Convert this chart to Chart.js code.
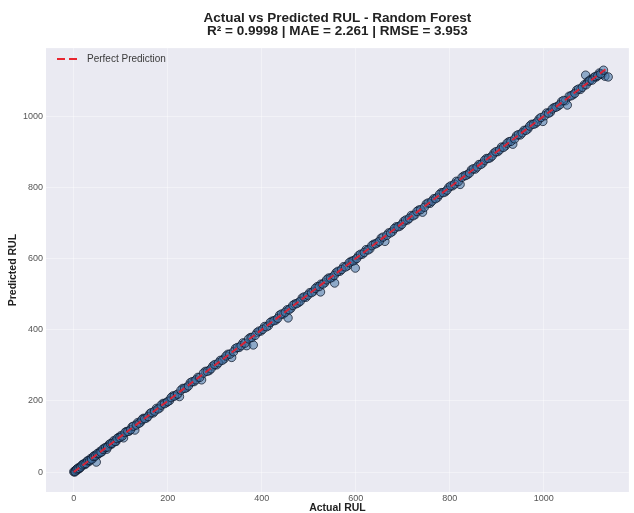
<!DOCTYPE html>
<html>
<head>
<meta charset="utf-8">
<title>Actual vs Predicted RUL</title>
<script src="https://cdn.jsdelivr.net/npm/chart.js@4.4.0/dist/chart.umd.min.js"></script>
<style>
  html, body { margin: 0; padding: 0; background: #fff; }
  #wrap { width: 634px; height: 513px; }
</style>
</head>
<body>
<div id="wrap"><canvas id="rulChart" width="634" height="513"></canvas></div>
<script>
// --- chart data ---
const titleLines = ['Actual vs Predicted RUL - Random Forest', 'R\u00b2 = 0.9998 | MAE = 2.261 | RMSE = 3.953'];
const xAxisTitle = 'Actual RUL';
const yAxisTitle = 'Predicted RUL';
const legendLabel = 'Perfect Prediction';

const xTicks = [0, 200, 400, 600, 800, 1000];
const yTicks = [0, 200, 400, 600, 800, 1000];

// test samples, first batch
const actualRul = [
  0, 2, 4, 6, 8, 10, 13, 16, 20, 24, 28, 32, 36, 40, 44, 48, 52, 56, 60, 65,
  70, 75, 80, 85, 90, 95, 100, 106, 112, 118, 124, 130, 136, 142, 148, 155, 162, 169, 176, 183,
  190, 197, 204, 211, 218, 225, 232, 240, 248, 256, 264, 272, 280, 288, 296, 304, 312, 320, 328, 336,
  344, 352, 360, 368, 376, 382, 390, 398, 406, 414, 422, 430, 438, 446, 454, 456, 462, 470, 478, 486,
  494, 502, 510, 518, 525, 526, 534, 542, 550, 555, 558, 566, 574, 582, 590, 598, 599, 606, 614, 622,
  630, 638, 646, 654, 662, 670, 678, 686, 694, 702, 710, 718, 726, 734, 742, 750, 758, 766, 774, 782,
  790, 798, 806, 814, 822, 830, 838, 846, 854, 862, 870, 878, 886, 894, 902, 910, 918, 926, 934, 942,
  950, 958, 966, 974, 982, 990, 998, 1006, 1014, 1022, 1030, 1038, 1046, 1050, 1054, 1062, 1070, 1078, 1086, 1089,
  1094, 1100, 1106, 1112, 1118, 1124, 1130, 1137
];
const predictedRul = [
  1, 0, 5, 7, 6, 12, 11, 17, 22, 21, 30, 29, 38, 37, 46, 28, 50, 58, 57, 67,
  64, 77, 78, 88, 86, 97, 102, 96, 114, 115, 127, 118, 139, 140, 151, 152, 164, 166, 179, 180,
  193, 195, 201, 214, 216, 212, 235, 237, 251, 254, 266, 259, 283, 285, 298, 301, 314, 318, 331, 322,
  347, 350, 363, 355, 378, 357, 392, 396, 409, 411, 424, 427, 441, 444, 456, 433, 460, 472, 476, 489,
  491, 504, 508, 521, 506, 528, 532, 545, 547, 531, 560, 564, 577, 579, 592, 596, 573, 608, 612, 625,
  627, 640, 644, 657, 648, 672, 676, 689, 691, 704, 708, 721, 723, 736, 730, 753, 755, 768, 772, 785,
  787, 800, 804, 817, 808, 832, 836, 849, 851, 864, 868, 881, 883, 896, 900, 913, 916, 928, 921, 945,
  947, 960, 964, 977, 979, 992, 985, 1009, 1011, 1024, 1028, 1041, 1043, 1031, 1056, 1060, 1073, 1075, 1088, 1115,
  1097, 1103, 1108, 1110, 1121, 1117, 1112, 1110
];

// test samples, second batch
const actualRul2 = [
  3, 7, 11, 15, 18, 22, 26, 30, 34, 38, 42, 46, 50, 54, 58, 62, 68, 72, 78, 82,
  88, 92, 98, 103, 109, 115, 121, 127, 133, 139, 145, 151, 158, 165, 172, 179, 186, 193, 200, 207,
  214, 221, 228, 236, 244, 252, 260, 268, 276, 284, 292, 300, 308, 316, 324, 332, 340, 348, 356, 364,
  372, 379, 386, 394, 402, 410, 418, 426, 434, 442, 450, 458, 466, 474, 482, 490, 498, 506, 514, 522,
  530, 538, 546, 554, 562, 570, 578, 586, 594, 602, 610, 618, 626, 634, 642, 650, 658, 666, 674, 682,
  690, 698, 706, 714, 722, 730, 738, 746, 754, 762, 770, 778, 786, 794, 802, 810, 818, 826, 834, 842,
  850, 858, 866, 874, 882, 890, 898, 906, 914, 922, 930, 938, 946, 954, 962, 970, 978, 986, 994, 1002,
  1010, 1018, 1026, 1034, 1042, 1058, 1066, 1074, 1082, 1090, 1097, 1103, 1109, 1115, 1121, 1127
];
const predictedRul2 = [
  2, 9, 10, 14, 20, 23, 24, 32, 33, 36, 44, 45, 52, 53, 56, 64, 69, 70, 80, 81,
  86, 94, 97, 101, 111, 114, 119, 129, 132, 137, 147, 150, 156, 167, 171, 177, 188, 192, 198, 209,
  213, 219, 230, 235, 242, 254, 259, 266, 278, 283, 290, 302, 307, 314, 326, 331, 338, 350, 355, 362,
  374, 378, 384, 396, 401, 408, 420, 425, 432, 444, 449, 456, 468, 473, 480, 492, 497, 504, 516, 521,
  528, 540, 545, 552, 564, 569, 576, 588, 593, 600, 612, 617, 624, 636, 641, 648, 660, 665, 672, 684,
  689, 696, 708, 713, 720, 732, 737, 744, 756, 761, 768, 780, 785, 792, 804, 809, 816, 828, 833, 840,
  852, 857, 864, 876, 881, 888, 900, 905, 912, 924, 929, 936, 948, 953, 960, 972, 977, 984, 996, 1001,
  1008, 1020, 1025, 1032, 1044, 1057, 1064, 1076, 1081, 1088, 1099, 1101, 1111, 1114, 1119, 1129
];
const perfectRange = [0, 1135];

const scatterPoints = actualRul.map((a, i) => ({ x: a, y: predictedRul[i] }))
  .concat(actualRul2.map((a, i) => ({ x: a, y: predictedRul2[i] })));
const perfectPoints = perfectRange.map(v => ({ x: v, y: v }));

const FONT = "'Liberation Sans', Arial, sans-serif";

// seaborn-style grey plot background
const plotBackground = {
  id: 'plotBackground',
  beforeDraw(chart) {
    const { ctx, chartArea } = chart;
    ctx.save();
    ctx.fillStyle = '#eaeaf2';
    ctx.fillRect(chartArea.left, chartArea.top, chartArea.right - chartArea.left, chartArea.bottom - chartArea.top);
    ctx.restore();
  }
};

// legend sits inside the plot, top left
const insideLegend = {
  id: 'insideLegend',
  afterDraw(chart) {
    const { ctx, chartArea } = chart;
    const y = chartArea.top + 11;
    const x0 = chartArea.left + 11;
    ctx.save();
    ctx.strokeStyle = 'rgb(232, 38, 48)';
    ctx.lineWidth = 2;
    ctx.setLineDash([8, 4]);
    ctx.beginPath();
    ctx.moveTo(x0, y);
    ctx.lineTo(x0 + 21, y);
    ctx.stroke();
    ctx.setLineDash([]);
    ctx.fillStyle = '#3a3a3a';
    ctx.font = '10px ' + FONT;
    ctx.textBaseline = 'middle';
    ctx.fillText(legendLabel, x0 + 30, y);
    ctx.restore();
  }
};

const plainTick = v => String(v);

const ctx = document.getElementById('rulChart').getContext('2d');
new Chart(ctx, {
  type: 'scatter',
  data: {
    datasets: [
      {
        label: legendLabel,
        data: perfectPoints,
        type: 'line',
        borderColor: 'rgba(230, 30, 45, 0.9)',
        borderWidth: 2,
        borderDash: [7, 4],
        pointRadius: 0,
        fill: false,
        order: 0
      },
      {
        label: 'Predictions',
        data: scatterPoints,
        backgroundColor: 'rgba(65, 115, 165, 0.55)',
        borderColor: 'rgba(10, 18, 35, 0.8)',
        borderWidth: 0.9,
        pointRadius: 4.2,
        order: 1
      }
    ]
  },
  options: {
    responsive: false,
    animation: false,
    devicePixelRatio: 1,
    layout: { padding: 0 },
    plugins: {
      legend: { display: false },
      tooltip: { enabled: false },
      title: {
        display: true,
        text: titleLines,
        fullSize: false,
        color: '#222',
        font: { family: FONT, size: 13.5, weight: 'bold', lineHeight: 0.93 },
        padding: { top: 12, bottom: 11 }
      }
    },
    scales: {
      x: {
        type: 'linear',
        min: -59,
        max: 1181,
        afterBuildTicks: scale => { scale.ticks = xTicks.map(v => ({ value: v })); },
        afterFit: scale => { scale.height = 21; },
        border: { display: false },
        grid: { color: 'rgba(255,255,255,0.4)', lineWidth: 1, drawTicks: false },
        ticks: { color: '#555', font: { family: FONT, size: 9 }, padding: 1, maxRotation: 0, callback: plainTick },
        title: {
          display: true,
          text: xAxisTitle,
          color: '#222',
          font: { family: FONT, size: 10.5, weight: 'bold', lineHeight: 1.0 },
          padding: { top: 0, bottom: 0 }
        }
      },
      y: {
        type: 'linear',
        min: -56,
        max: 1191,
        afterBuildTicks: scale => { scale.ticks = yTicks.map(v => ({ value: v })); },
        afterFit: scale => { scale.width = 46; },
        border: { display: false },
        grid: { color: 'rgba(255,255,255,0.4)', lineWidth: 1, drawTicks: false },
        ticks: { color: '#555', font: { family: FONT, size: 9 }, padding: 3, callback: plainTick },
        title: {
          display: true,
          text: yAxisTitle,
          color: '#222',
          font: { family: FONT, size: 10.5, weight: 'bold' },
          padding: { top: 7, bottom: 0 }
        }
      }
    }
  },
  plugins: [plotBackground, insideLegend]
});
</script>
</body>
</html>
